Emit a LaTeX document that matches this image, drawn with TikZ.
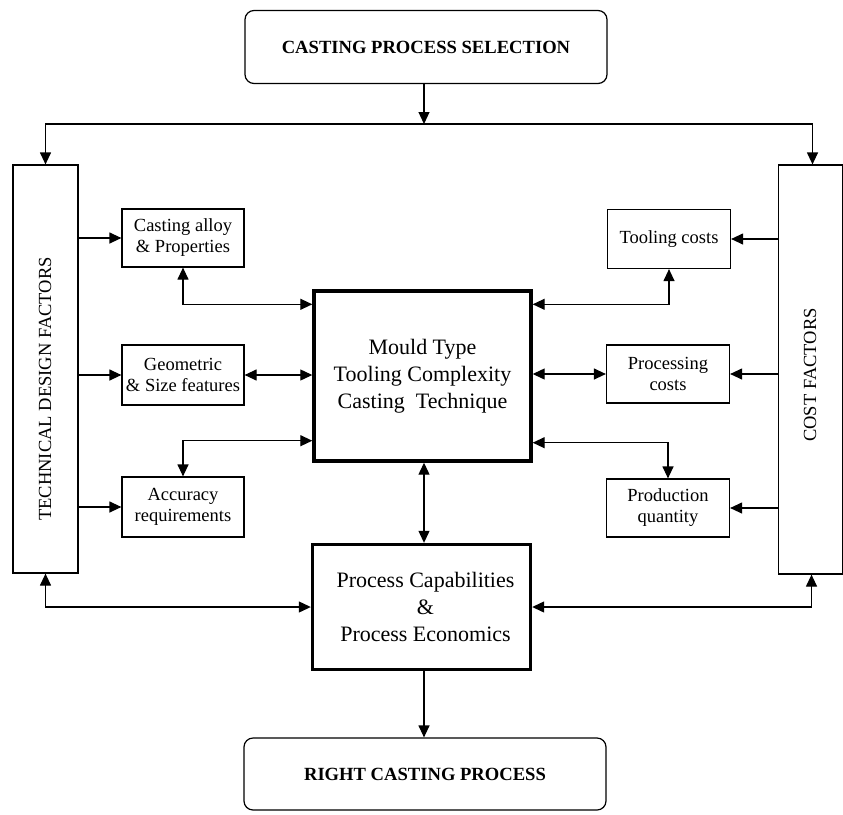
\documentclass[tikz,border=0pt]{standalone}
\usepackage{fontspec}
\setmainfont{Liberation Serif}
\usepackage{tikz}
\usetikzlibrary{arrows.meta}

\tikzset{
    smallbox/.style={draw, line width=1.2pt, align=center, inner sep=1pt,
        font=\fontsize{18.5}{21}\selectfont},
    bigbox/.style={draw, line width=3.4pt, align=center, inner sep=2pt,
        font=\fontsize{22}{27}\selectfont},
    endbox/.style={draw, line width=1.2pt, rounded corners=9pt, align=center,
        minimum width=362pt, font=\fontsize{18.6}{20}\selectfont\bfseries},
    tallbox/.style={draw, line width=1.2pt, minimum width=65pt},
    arr/.style={line width=1.2pt, -{Triangle[length=12pt, width=11pt]}},
    dbl/.style={line width=1.2pt, {Triangle[length=12pt, width=11pt]}-{Triangle[length=12pt, width=11pt]}}
}

\begin{document}
\begin{tikzpicture}[x=1pt, y=-1pt]

    \useasboundingbox (0,0) rectangle (843,814);

    % Top and bottom boxes
    \node[endbox, minimum height=73pt] (select) at (426, 47) {CASTING PROCESS SELECTION};
    \node[endbox, minimum height=72pt] (result) at (425, 774) {RIGHT CASTING PROCESS};

    % Side columns
    \node[tallbox, minimum height=408pt] (tech) at (45.5, 369) {};
    \node[rotate=90, font=\fontsize{18.5}{20}\selectfont] at (45, 389) {TECHNICAL DESIGN FACTORS};
    \node[tallbox, minimum width=64pt, minimum height=409pt] (cost) at (810.5, 369.5) {};
    \node[rotate=90, font=\fontsize{18.5}{20}\selectfont] at (810, 375) {COST FACTORS};

    % Technical factors
    \node[smallbox, minimum width=122pt, minimum height=58pt] (alloy) at (183, 238) {Casting alloy\\\& Properties};
    \node[smallbox, minimum width=122pt, minimum height=60pt] (geom) at (183, 375) {Geometric\\\& Size features};
    \node[smallbox, minimum width=122pt, minimum height=60pt] (acc) at (183, 507) {Accuracy\\requirements};

    % Cost factors
    \node[smallbox, minimum width=123pt, minimum height=59pt] (tool) at (669, 239) {Tooling costs};
    \node[smallbox, minimum width=123pt, minimum height=58pt] (proc) at (668, 374) {Processing\\costs};
    \node[smallbox, minimum width=123pt, minimum height=58pt] (qty) at (668, 508) {Production\\quantity};

    % Central boxes
    \node[bigbox, minimum width=217pt, minimum height=170pt] (mould) at (422.5, 376)
        {Mould Type\\Tooling Complexity\\Casting\ \ Technique};
    \node[bigbox, minimum width=218pt, minimum height=125pt] (capab) at (421.5, 607)
        {\hspace*{8pt}Process Capabilities\\\hspace*{8pt}\&\\\hspace*{8pt}Process Economics};

    % Branch from the top
    \coordinate (split) at (424, 124);
    \draw[arr] (select.south -| split) -- (split);
    \draw[arr] (split) -| (tech.north);
    \draw[arr] ([xshift=-1pt]split) -| ([xshift=2pt]cost.north);

    % Columns to factors
    \foreach \f in {alloy, geom, acc} {
        \draw[arr] (tech.east |- \f) -- (\f.west);
    }
    \foreach \f in {tool, proc, qty} {
        \draw[arr] (cost.west |- \f) -- (\f.east);
    }

    % Factors to the mould box
    \draw[dbl] (alloy.south) |- ([yshift=-15pt]mould.north west);
    \draw[dbl] (geom.east) -- (mould.west |- geom);
    \draw[dbl] (acc.north) |- ([yshift=22pt]mould.south west);
    \draw[dbl] (tool.south) |- ([yshift=-15pt]mould.north east);
    \draw[dbl] (proc.west) -- (mould.east |- proc);
    \draw[dbl] (qty.north) |- ([yshift=20pt]mould.south east);

    % Lower part
    \draw[dbl] (mould.south -| 424,0) -- (capab.north -| 424,0);
    \draw[dbl] (tech.south) |- (capab.west);
    \draw[dbl] ([xshift=1pt]cost.south) |- (capab.east);
    \draw[arr] (capab.south -| 424,0) -- (result.north -| 424,0);

\end{tikzpicture}
\end{document}
